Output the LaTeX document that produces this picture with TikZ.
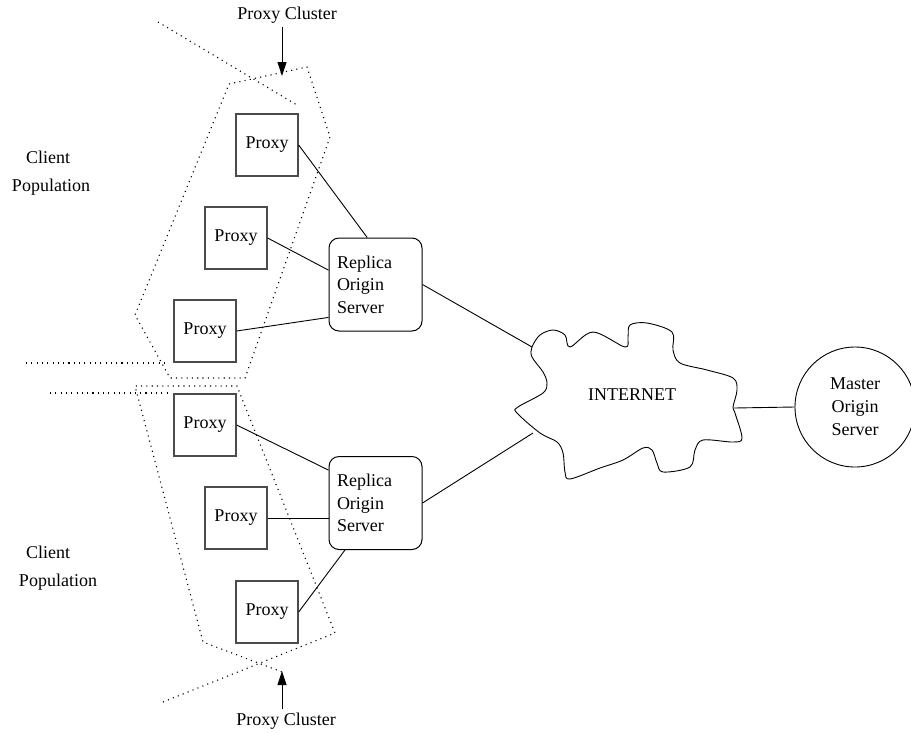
\documentclass[tikz,border=0pt]{standalone}
\usepackage{fontspec}
\setmainfont{Liberation Serif}
\usetikzlibrary{arrows.meta,calc}

\tikzset{
  every node/.style={font=\fontsize{18}{22.5}\selectfont},
  proxy/.style={draw=black!70,line width=1.3pt,minimum size=62pt,inner sep=0pt},
  replica/.style={draw,line width=1pt,rounded corners=10pt,minimum width=93pt,minimum height=93pt,
                  text width=77pt,inner sep=8pt,align=left},
  pointille/.style={line width=1.1pt,dash pattern=on 1.1pt off 4.2pt},
  fil/.style={line width=0.9pt},
  fleche/.style={line width=0.9pt,-{Triangle[length=14pt,width=9pt]}}
}

\begin{document}
\begin{tikzpicture}[x=1pt,y=-1pt]
\useasboundingbox (0,0) rectangle (911,732);

% les proxies
\node[proxy] (pa1) at (267,145) {Proxy};
\node[proxy] (pa2) at (236,238) {Proxy};
\node[proxy] (pa3) at (205,331) {Proxy};
\node[proxy] (pb1) at (205,425) {Proxy};
\node[proxy] (pb2) at (236,518) {Proxy};
\node[proxy] (pb3) at (267,612) {Proxy};

% serveurs
\node[replica] (ra) at (375.5,284.5) {Replica\\Origin\\Server};
\node[replica] (rb) at (375.5,503) {Replica\\Origin\\Server};
\node[draw,circle,fil,minimum size=120pt,align=center,font=\fontsize{18}{23}\selectfont]
     (master) at (855,407) {Master\\Origin\\Server};

% le nuage
\draw[fil] plot[smooth cycle,tension=0.55] coordinates {
  (532,347) (540,335) (553,330) (565,335) (570,347) (593,332) (625,347) (628,337)
  (630,325) (647,323) (672,332) (673,350) (680,363) (707,370) (733,378) (737,390)
  (733,407) (735,413) (742,438) (733,442) (703,440) (695,450) (690,467) (663,472)
  (657,463) (652,450) (643,448) (623,460) (600,468) (570,479) (565,472) (563,453)
  (557,442) (540,433) (517,413) (518,407) (543,393) (547,383) (543,372) (532,357)};
\node (inet) at (632,395) {INTERNET};
\coordinate (cla) at (532,347);
\coordinate (clb) at (533,433);
\coordinate (clm) at (734,408);

% liaisons
\draw[fil] (pa1.east) -- (ra.100);
\draw[fil] (pa2.east) -- (ra.163);
\draw[fil] (pa3.east) -- (ra.215);
\draw[fil] (pb1.east) -- (rb.145);
\draw[fil] (pb2.east) -- (rb.west |- pb2.east);
\draw[fil] (pb3.east) -- (rb.237);
\draw[fil] (ra.east) -- (cla);
\draw[fil] (rb.east) -- (clb);
\draw[fil] (clm) -- (master.west);

% grappes de proxies
\draw[pointille] (158,22) -- (297,105);
\draw[pointille] (229,84) -- (307,67) -- (330,137) -- (245,378) -- (170,378) -- (135,315) -- cycle;
\draw[pointille] (26,363) -- (165,363);
\draw[pointille] (50,393) -- (167,393);
\draw[pointille] (163,702) -- (335,633) -- (237,386) -- (135,386) -- (203,642) -- (282,672);

% textes
\node (cliA) at (48,157) {Client};
\node (popA) at (51,187) {Population};
\node (cliB) at (48,552) {Client};
\node (popB) at (58,582) {Population};

\node (pcA) at (287,15) {Proxy Cluster};
\node (pcB) at (286,721) {Proxy Cluster};
\coordinate (tipA) at (282,76);
\coordinate (tipB) at (282,671);
\draw[fleche] (pcA.south -| tipA) -- (tipA);
\draw[fleche] (pcB.north -| tipB) -- (tipB);
\end{tikzpicture}
\end{document}
